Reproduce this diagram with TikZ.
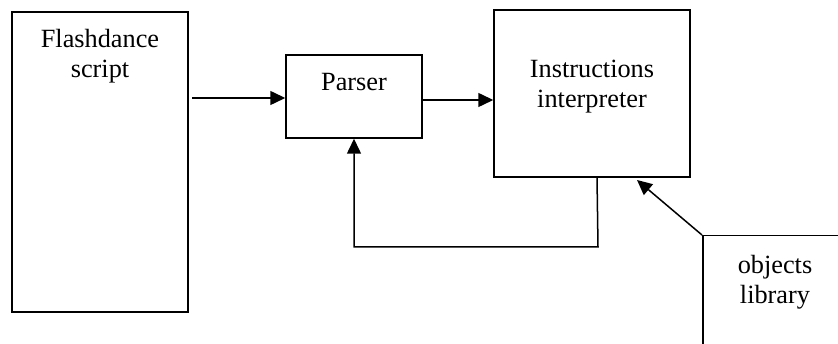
\documentclass[tikz,border=0pt]{standalone}
\usepackage{fontspec}
\setmainfont{Liberation Serif}
\usetikzlibrary{arrows.meta}
\begin{document}
\begin{tikzpicture}[x=1pt,y=-1pt,
  box/.style={draw, line width=1.5pt, rectangle, inner sep=0pt},
  txt/.style={align=center, inner sep=0pt, font=\fontsize{26.3}{30}\selectfont},
  arr/.style={line width=1.5pt, -{Triangle[length=15pt,width=14pt]}},
  ln/.style={line width=1.5pt}]
\clip (0,0) rectangle (838,344);
\fill[white] (0,0) rectangle (838,344);
% boxes
\node[box, minimum width=176pt, minimum height=300pt] (fd) at (100,162) {};
\node[txt] (fdt) at (100,56) {Flashdance\\script};
\node[box, minimum width=136pt, minimum height=83pt] (parser) at (354,96.5) {};
\node[txt] (pt) at (354,82) {Parser};
\node[box, minimum width=196pt, minimum height=167pt] (interp) at (592,93.5) {};
\node[txt] (it) at (592,87) {Instructions\\interpreter};
\node[box, anchor=north west, minimum width=220pt, minimum height=160pt] (lib) at (702,235) {};
\node[txt] (lt) at (775,282) {objects\\library};
% connectors
\coordinate (a1) at (192,98);
\coordinate (a2) at (0,100);
\coordinate (fb1) at (597,177);
\coordinate (fb2) at (598,247);
\coordinate (li) at (637,180);
\draw[arr] (a1) -- (a1 -| parser.west);
\draw[arr] (parser.east |- a2) -- (a2 -| interp.west);
\draw[arr] (fb1) -- (fb2) -| (parser.south);
\draw[arr] (lib.north west) -- (li);
\end{tikzpicture}
\end{document}
